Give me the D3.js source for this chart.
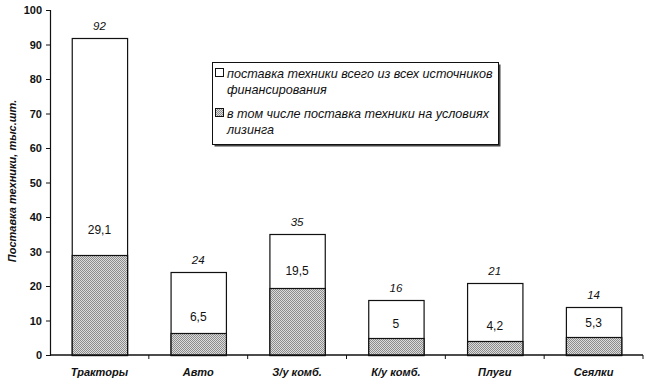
<!DOCTYPE html>
<html>
<head>
<meta charset="utf-8">
<script src="https://cdn.jsdelivr.net/npm/d3@7"></script>
<style>
	body { margin: 0; background: #fff; }
	#chart { width: 646px; height: 392px; }
	text { font-family: "Liberation Sans", Arial, sans-serif; fill: #111; }
	.tick_label { font-size: 11px; font-weight: bold; }
	.cat_label { font-size: 11px; font-weight: bold; font-style: italic; }
	.total_label { font-size: 11.5px; font-style: italic; }
	.lease_label { font-size: 12px; }
	.legend_text { font-size: 12.6px; font-style: italic; }
</style>
</head>
<body>
<div id="chart"></div>
<script>
"use strict"

// values
let categories = ["Тракторы", "Авто", "З/у комб.", "К/у комб.", "Плуги", "Сеялки"];
let totalValues = [92, 24, 35, 16, 21, 14];
let leaseValues = [29.1, 6.5, 19.5, 5, 4.2, 5.3];
let yTicks = [0, 10, 20, 30, 40, 50, 60, 70, 80, 90, 100];
let legendLines = [
	["поставка техники всего из всех источников", "финансирования"],
	["в том числе поставка техники на условиях", "лизинга"]
];
let yTitle = "Поставка техники, тыс.шт.";

let StackedView = function(targetID) {
	let self = {
		targetID: "",
		svg: null,
		g: null,
		margin: {left: 50, right: 3, top: 10, bottom: 37},
		width: 0,
		height: 0,
		xScale: d3.scaleBand(),
		yScale: d3.scaleLinear(),
	}

	init();

	function init() {
		self.targetID = targetID;
	}

	function draw() {
		let totalW = 646, totalH = 392;
		self.width = totalW - self.margin.left - self.margin.right;
		self.height = totalH - self.margin.top - self.margin.bottom;

		self.svg = d3.select(self.targetID).append("svg")
			.attr("width", totalW)
			.attr("height", totalH);

		// gray checker pattern for the leasing part
		let pat = self.svg.append("defs").append("pattern")
			.attr("id", "hatch")
			.attr("width", 2).attr("height", 2)
			.attr("patternUnits", "userSpaceOnUse");
		pat.append("rect").attr("width", 2).attr("height", 2).attr("fill", "#dcdcdc");
		pat.append("rect").attr("width", 1).attr("height", 1).attr("fill", "#8c8c8c");
		pat.append("rect").attr("x", 1).attr("y", 1).attr("width", 1).attr("height", 1).attr("fill", "#8c8c8c");

		self.g = self.svg.append("g")
			.attr("transform", "translate(" + self.margin.left + "," + self.margin.top + ")");

		self.xScale.domain(categories).range([0, self.width]).paddingInner(0.44).paddingOuter(0.22);
		self.yScale.domain([0, 100]).range([self.height, 0]);

		let rows = categories.map((c, i) => ({cat: c, total: totalValues[i], lease: leaseValues[i]}));
		let x = self.xScale, y = self.yScale;

		// total bars (white)
		self.g.selectAll(".bar_total").data(rows).enter().append("rect")
			.attr("class", "bar_total")
			.attr("x", d => x(d.cat) + 0.5)
			.attr("y", d => Math.round(y(d.total)) + 0.5)
			.attr("width", x.bandwidth())
			.attr("height", d => y(0) - Math.round(y(d.total)))
			.attr("fill", "#fff")
			.attr("stroke", "#111")
			.attr("stroke-width", 1.2);

		// leasing bars (hatched)
		self.g.selectAll(".bar_lease").data(rows).enter().append("rect")
			.attr("class", "bar_lease")
			.attr("x", d => x(d.cat) + 0.5)
			.attr("y", d => Math.round(y(d.lease)) + 0.5)
			.attr("width", x.bandwidth())
			.attr("height", d => y(0) - Math.round(y(d.lease)))
			.attr("fill", "url(#hatch)")
			.attr("stroke", "#111")
			.attr("stroke-width", 1.2);

		// labels
		self.g.selectAll(".total_label").data(rows).enter().append("text")
			.attr("class", "total_label")
			.attr("x", d => x(d.cat) + x.bandwidth() / 2)
			.attr("y", d => y(d.total) - 8)
			.attr("text-anchor", "middle")
			.text(d => String(d.total).replace(".", ","));

		self.g.selectAll(".lease_label").data(rows).enter().append("text")
			.attr("class", "lease_label")
			.attr("x", d => x(d.cat) + x.bandwidth() / 2)
			.attr("y", d => y(d.lease) - (8 + d.total * 0.14))
			.attr("text-anchor", "middle")
			.text(d => String(d.lease).replace(".", ","));

		// y axis
		let yAxis = self.g.append("g").call(d3.axisLeft(y).tickValues(yTicks).tickSize(4).tickFormat(d3.format("d")));
		yAxis.select(".domain").attr("stroke", "#111").attr("stroke-width", 1.2);
		yAxis.selectAll(".tick line").attr("stroke", "#111");
		yAxis.selectAll(".tick text").attr("class", "tick_label").attr("x", -8).attr("fill", "#111");

		// x axis, ticks at band boundaries
		let xAxis = self.g.append("g").attr("transform", "translate(0," + self.height + ")");
		xAxis.append("line")
			.attr("x1", 0).attr("x2", self.width)
			.attr("stroke", "#111").attr("stroke-width", 1.4);
		xAxis.selectAll(".xtick").data(categories).enter().append("line")
			.attr("x1", d => x(d) - x.step() * x.paddingOuter() + x.step())
			.attr("x2", d => x(d) - x.step() * x.paddingOuter() + x.step())
			.attr("y1", 0).attr("y2", 4)
			.attr("stroke", "#111");
		xAxis.selectAll(".cat_label").data(categories).enter().append("text")
			.attr("class", "cat_label")
			.attr("x", d => x(d) + x.bandwidth() / 2)
			.attr("y", 21)
			.attr("text-anchor", "middle")
			.text(d => d);

		// y title
		self.svg.append("text")
			.attr("class", "cat_label")
			.attr("transform", "translate(16,181)rotate(-90)")
			.attr("text-anchor", "middle")
			.text(yTitle);

		drawLegend();
	}

	function drawLegend() {
		let lg = self.svg.append("g").attr("transform", "translate(212,62)");
		let w = 286, h = 82;
		lg.append("rect").attr("x", 2.5).attr("y", 2.5).attr("width", w).attr("height", h).attr("fill", "#444");
		lg.append("rect").attr("x", 0.5).attr("y", 0.5).attr("width", w).attr("height", h)
			.attr("fill", "#fff").attr("stroke", "#111");

		let fills = ["#fff", "url(#hatch)"];
		legendLines.forEach((lines, i) => {
			let top = 6 + i * 40;
			lg.append("rect")
				.attr("x", 3.5).attr("y", top + 0.5)
				.attr("width", 8).attr("height", 8)
				.attr("fill", fills[i]).attr("stroke", "#111");
			lines.forEach((t, j) => {
				lg.append("text")
					.attr("class", "legend_text")
					.attr("x", 15)
					.attr("y", top + 9.5 + j * 16)
					.text(t);
			});
		});
	}

	return {
		draw,
	};
}

StackedView("#chart").draw();
</script>
</body>
</html>
